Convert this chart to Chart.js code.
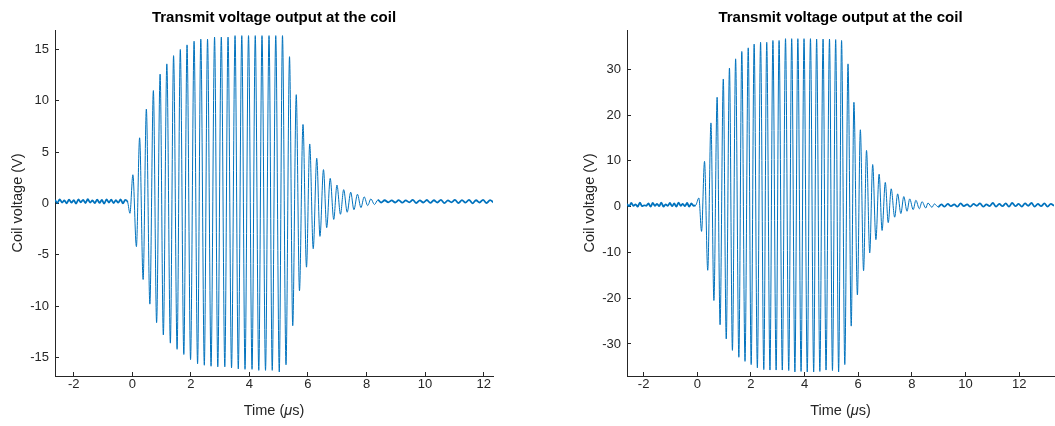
<!DOCTYPE html>
<html lang="en">
<head>
<meta charset="UTF-8" />
<title>Transmit voltage output at the coil</title>
<script src="https://cdn.jsdelivr.net/npm/chart.js@4"></script>
<style>
  html, body { margin: 0; padding: 0; background: #fff; }
  #wrap { position: relative; width: 1055px; height: 426px; }
  canvas { position: absolute; top: 0; }
</style>
</head>
<body>
<div id="wrap">
  <canvas id="left" width="527" height="426" style="left:0"></canvas>
  <canvas id="right" width="528" height="426" style="left:527px"></canvas>
</div>
<script>
// ---- left panel (time in us, voltage in V) ----
const leftPreT = [-2.64, -2.56, -2.48, -2.40, -2.32, -2.24, -2.16, -2.08, -2.00, -1.92, -1.84, -1.76, -1.68, -1.60, -1.52, -1.44,
  -1.36, -1.28, -1.20, -1.12, -1.04, -0.96, -0.88, -0.80, -0.72, -0.64, -0.56, -0.48, -0.40, -0.32, -0.24, -0.16];
const leftPreV = [0.35, 0.05, 0.4, 0.1, 0.3, 0.02, 0.38, 0.08, 0.33, 0.0, 0.4, 0.12, 0.36, 0.05, 0.42, 0.1,
  0.3, 0.04, 0.38, 0.06, 0.34, 0.0, 0.4, 0.1, 0.37, 0.05, 0.32, 0.08, 0.4, 0.02, 0.35, 0.15];
const leftPeakT = [0.02, 0.25, 0.48, 0.72, 0.95, 1.18, 1.41, 1.64, 1.87, 2.11, 2.34, 2.57, 2.81, 3.04, 3.27, 3.51, 3.74, 3.97, 4.2,
  4.43, 4.67, 4.9, 5.13, 5.37, 5.6, 5.83, 6.06, 6.3, 6.53, 6.76, 6.99, 7.22, 7.46, 7.69, 7.92, 8.15, 8.39];
const leftPeakV = [2.8, 6.4, 9.2, 11.0, 12.6, 13.6, 14.4, 15.0, 15.45, 15.8, 16.0, 16.0, 16.2, 16.2, 16.2, 16.35, 16.35, 16.35, 16.35,
  16.35, 16.35, 16.35, 16.35, 14.3, 10.6, 7.7, 5.8, 4.4, 3.3, 2.45, 1.8, 1.35, 1.1, 0.9, 0.65, 0.45, 0.35];
const leftTroughT = [-0.08, 0.14, 0.37, 0.6, 0.83, 1.06, 1.3, 1.53, 1.76, 1.99, 2.23, 2.46, 2.69, 2.92, 3.16, 3.39, 3.62, 3.85, 4.09,
  4.32, 4.55, 4.78, 5.02, 5.25, 5.48, 5.71, 5.95, 6.18, 6.41, 6.64, 6.88, 7.11, 7.34, 7.57, 7.81, 8.04, 8.27];
const leftTroughV = [-0.95, -4.2, -7.4, -9.8, -11.6, -12.8, -13.6, -14.2, -14.7, -15.2, -15.6, -15.75, -15.85, -15.9, -15.9, -16.0,
  -16.1, -16.15, -16.15, -16.25, -16.25, -16.25, -16.4, -15.7, -11.9, -8.5, -6.2, -4.4, -3.2, -2.35, -1.55, -1.05, -0.85, -0.6,
  -0.4, -0.2, -0.1];
const leftTailT = [8.5, 8.62, 8.74, 8.86, 8.98, 9.1, 9.22, 9.34, 9.46, 9.58, 9.7, 9.82, 9.94, 10.06, 10.18, 10.3, 10.42,
  10.54, 10.66, 10.78, 10.9, 11.02, 11.14, 11.26, 11.38, 11.5, 11.62, 11.74, 11.86, 11.98, 12.1, 12.22, 12.34];
const leftTailV = [0.1, 0.32, 0.12, 0.3, 0.1, 0.33, 0.08, 0.3, 0.12, 0.35, 0.05, 0.3, 0.1, 0.34, 0.06, 0.32, 0.1,
  0.36, 0.04, 0.3, 0.12, 0.35, 0.05, 0.33, 0.08, 0.36, 0.02, 0.32, 0.1, 0.35, 0.05, 0.33, 0.1];

// ---- right panel ----
const rightPreT = [-2.62, -2.54, -2.46, -2.38, -2.30, -2.22, -2.14, -2.06, -1.98, -1.90, -1.82, -1.74, -1.66, -1.58, -1.50, -1.42,
  -1.34, -1.26, -1.18, -1.10, -1.02, -0.94, -0.86, -0.78, -0.70, -0.62, -0.54, -0.46, -0.38, -0.30, -0.22, -0.14, -0.06];
const rightPreV = [0.6, 0.1, 0.8, 0.2, 0.5, 0.0, 0.9, 0.1, 0.3, 0.2, 0.7, 0.0, 0.8, 0.2, 0.6, 0.1,
  0.9, 0.0, 0.5, 0.2, 0.8, 0.1, 0.7, 0.0, 0.9, 0.2, 0.6, 0.1, 0.8, 0.0, 0.7, 0.2, 0.3];
const rightPeakT = [0.06, 0.27, 0.51, 0.74, 0.97, 1.2, 1.43, 1.66, 1.9, 2.12, 2.36, 2.59, 2.82, 3.05, 3.29, 3.52, 3.75, 3.98, 4.22,
  4.45, 4.69, 4.93, 5.16, 5.38, 5.62, 5.84, 6.08, 6.31, 6.54, 6.78, 7.01, 7.23, 7.47, 7.7, 7.92, 8.15, 8.38, 8.6, 8.84];
const rightPeakV = [1.9, 9.9, 18.3, 23.9, 27.9, 30.3, 32.3, 33.9, 34.7, 35.5, 35.9, 35.9, 36.3, 36.3, 36.7, 36.7, 36.7, 36.7, 36.7,
  36.6, 36.6, 36.6, 36.5, 36.3, 31.2, 22.8, 16.8, 12.3, 9.2, 7.1, 5.3, 3.9, 2.8, 2.2, 1.7, 1.4, 1.1, 0.8, 0.6];
const rightTroughT = [0.16, 0.39, 0.62, 0.85, 1.08, 1.31, 1.55, 1.78, 2.01, 2.24, 2.48, 2.71, 2.94, 3.17, 3.41, 3.64, 3.87, 4.1,
  4.34, 4.57, 4.8, 5.04, 5.27, 5.5, 5.74, 5.97, 6.2, 6.43, 6.66, 6.89, 7.12, 7.36, 7.59, 7.82, 8.05, 8.28, 8.52, 8.75, 8.98];
const rightTroughV = [-5.4, -13.9, -20.5, -25.8, -28.9, -31.4, -32.9, -33.8, -34.5, -35.2, -35.6, -35.7, -35.7, -35.7, -35.8, -36.1,
  -36.0, -36.1, -36.1, -36.0, -35.7, -35.8, -36.1, -34.5, -26.1, -19.3, -14.0, -10.1, -7.2, -5.2, -3.5, -2.3, -1.5, -1.0, -0.65,
  -0.45, -0.3, -0.15, -0.05];
const rightTailT = [9.1, 9.22, 9.34, 9.46, 9.58, 9.7, 9.82, 9.94, 10.06, 10.18, 10.3, 10.42, 10.54, 10.66, 10.78, 10.9, 11.02, 11.14,
  11.26, 11.38, 11.5, 11.62, 11.74, 11.86, 11.98, 12.1, 12.22, 12.34, 12.46, 12.58, 12.7, 12.82, 12.94, 13.06, 13.18, 13.3];
const rightTailV = [0.5, 0.0, 0.6, 0.1, 0.5, 0.0, 0.7, 0.1, 0.5, 0.0, 0.6, 0.2, 0.7, 0.0, 0.5, 0.1, 0.8, 0.0,
  0.6, 0.1, 0.7, 0.0, 0.8, 0.1, 0.6, 0.0, 0.7, 0.2, 0.8, 0.0, 0.6, 0.1, 0.7, 0.0, 0.6, 0.2];

const titleText = "Transmit voltage output at the coil";
const yLabel = "Coil voltage (V)";
const FONT = '"Liberation Sans", Arial, Helvetica, sans-serif';
const AXIS = "#262626";

function buildPoints(parts) {
  const pts = [];
  parts.forEach(([ts, vs]) => ts.forEach((t, i) => pts.push({ x: t, y: vs[i] })));
  pts.sort((a, b) => a.x - b.x);
  return pts;
}

// title, ylabel and the TeX style xlabel are drawn around the chart area
const labelsPlugin = {
  id: "matlabLabels",
  afterDraw(chart) {
    const a = chart.chartArea;
    const ctx = chart.ctx;
    const cx = (a.left + a.right) / 2;
    ctx.save();
    ctx.textBaseline = "middle";
    ctx.textAlign = "center";
    ctx.fillStyle = "#000";
    ctx.font = "bold 15px " + FONT;
    ctx.fillText(titleText, cx, a.top - 12);

    ctx.fillStyle = AXIS;
    ctx.font = "14.5px " + FONT;
    ctx.save();
    ctx.translate(a.left - 37, (a.top + a.bottom) / 2);
    ctx.rotate(-Math.PI / 2);
    ctx.fillText(yLabel, 0, 0);
    ctx.restore();

    const parts = [["Time (", ""], ["\u03bc", "italic "], ["s)", ""]];
    let total = 0;
    const widths = parts.map(([s, st]) => {
      ctx.font = st + "14.5px " + FONT;
      const w = ctx.measureText(s).width;
      total += w;
      return w;
    });
    let x = cx - total / 2;
    ctx.textAlign = "left";
    parts.forEach(([s, st], i) => {
      ctx.font = st + "14.5px " + FONT;
      ctx.fillText(s, x, a.bottom + 35);
      x += widths[i];
    });
    ctx.restore();
  }
};

// noise stretches (before the burst, after the ring-down) look like a dense band
function makeChart(id, points, xr, yr, yStep, yWidth, padRight, burst) {
  new Chart(document.getElementById(id), {
    type: "line",
    data: {
      datasets: [{
        data: points,
        borderColor: "#0072BD",
        borderWidth: 1,
        pointRadius: 0,
        cubicInterpolationMode: "monotone",
        fill: false,
        segment: {
          borderWidth: (c) => (c.p1.parsed.x <= burst[0] || c.p0.parsed.x >= burst[1]) ? 1.8 : 1
        }
      }]
    },
    options: {
      responsive: false,
      animation: false,
      events: [],
      layout: { padding: { top: 30, right: padRight, left: 0, bottom: 0 } },
      plugins: { legend: { display: false }, tooltip: { enabled: false }, title: { display: false } },
      scales: {
        x: {
          type: "linear",
          min: xr[0],
          max: xr[1],
          afterFit: (s) => { s.height = 50; },
          ticks: { stepSize: 2, includeBounds: false, color: AXIS, padding: 5, font: { family: FONT, size: 13 } },
          grid: { drawOnChartArea: false, drawTicks: true, tickLength: -4, color: AXIS },
          border: { display: true, color: AXIS, width: 1 }
        },
        y: {
          min: yr[0],
          max: yr[1],
          afterFit: (s) => { s.width = yWidth; },
          ticks: { stepSize: yStep, includeBounds: false, color: AXIS, padding: 10, font: { family: FONT, size: 13 } },
          grid: { drawOnChartArea: false, drawTicks: true, tickLength: -4, color: AXIS },
          border: { display: true, color: AXIS, width: 1 }
        }
      }
    },
    plugins: [labelsPlugin]
  });
}

makeChart("left",
  buildPoints([[leftPreT, leftPreV], [leftPeakT, leftPeakV], [leftTroughT, leftTroughV], [leftTailT, leftTailV]]),
  [-2.64, 12.32], [-16.8, 16.9], 5, 55, 34, [-0.16, 8.39]);
makeChart("right",
  buildPoints([[rightPreT, rightPreV], [rightPeakT, rightPeakV], [rightTroughT, rightTroughV], [rightTailT, rightTailV]]),
  [-2.62, 13.3], [-37, 38.6], 10, 100, 1, [-0.06, 8.98]);
</script>
</body>
</html>
